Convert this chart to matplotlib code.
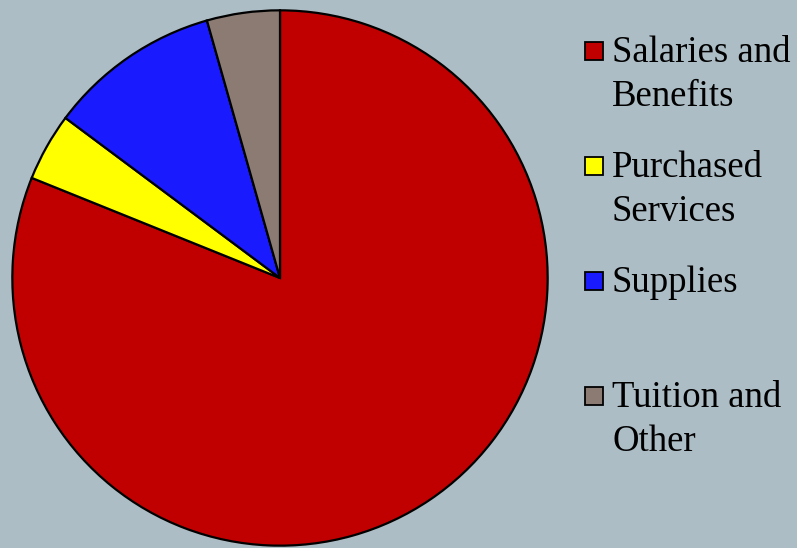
import matplotlib.pyplot as plt
from matplotlib.patches import Rectangle

labels = ['Salaries and\nBenefits', 'Purchased\nServices', 'Supplies', 'Tuition and\nOther']
shares = [81.1, 4.1, 10.4, 4.4]
colors = ['#C00000', '#FFFF00', '#1A1AFF', '#8B7B73']
bg = '#ADBDC5'

W, H = 797, 548
fig = plt.figure(figsize=(W / 100, H / 100), dpi=100, facecolor=bg)

# pie centred at (280, 278) px, radius 269 px
cx, cy, r = 280, 278, 269
ax = fig.add_axes([(cx - r) / W, (H - cy - r) / H, 2 * r / W, 2 * r / H])
ax.set_facecolor(bg)
ax.pie(shares, colors=colors, startangle=90, counterclock=False, radius=1,
       wedgeprops=dict(edgecolor='black', linewidth=1.6))
ax.set_xlim(-1.005, 1.005)
ax.set_ylim(-1.005, 1.005)
ax.set_aspect('equal')
ax.axis('off')

# legend drawn by hand: swatch plus serif text, one line at a time
swatch_y = [51, 166, 281, 396]
for lab, col, y in zip(labels, colors, swatch_y):
    fig.patches.append(Rectangle((585 / W, (H - y - 9) / H), 18 / W, 18 / H,
                                 transform=fig.transFigure, facecolor=col,
                                 edgecolor='black', linewidth=1.3))
    for k, line in enumerate(lab.split('\n')):
        base = y + 11 + 44 * k
        fig.text(612 / W, (H - base) / H, line, family='Liberation Serif',
                 fontsize=26.5, va='baseline', ha='left')

fig.savefig('out.png', dpi=100, facecolor=bg)
